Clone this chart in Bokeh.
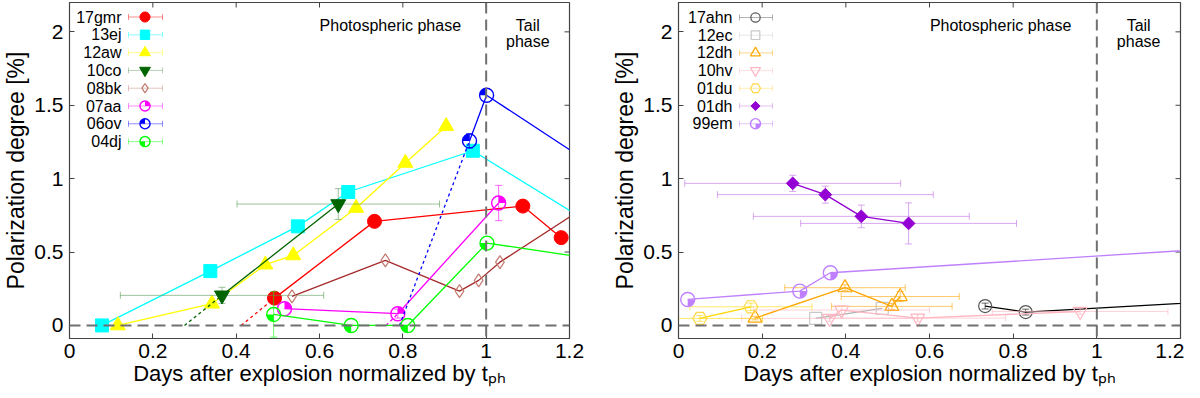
import math
from bokeh.plotting import figure
from bokeh.models import Range1d, Span, Label, FixedTicker, CustomJSTickFormatter
from bokeh.layouts import row
from bokeh.embed import file_html
from bokeh.resources import INLINE
from bokeh.core.properties import value

FONT = "Liberation Sans"

# ---------------- axes ----------------
x_ticks = [0, 0.2, 0.4, 0.6, 0.8, 1.0, 1.2]
y_ticks = [0, 0.5, 1, 1.5, 2]
x_label = "Days after explosion normalized by tₚₕ"
y_label = "Polarization degree [%]"
phase_left_text = "Photospheric phase"
phase_right_text = ["Tail", "phase"]

# ---------------- left panel data ----------------
sn17gmr_x = [0.492, 0.732, 1.088, 1.180]
sn17gmr_y = [0.186, 0.709, 0.813, 0.598]
sn17gmr_t0 = 0.412

sn13ej_x = [0.078, 0.338, 0.548, 0.669, 0.968, 1.35]
sn13ej_y = [0.0, 0.370, 0.675, 0.909, 1.190, 0.52]

sn12aw_x = [0.116, 0.342, 0.470, 0.537, 0.688, 0.806, 0.904]
sn12aw_y = [0.0, 0.148, 0.414, 0.477, 0.800, 1.107, 1.357]

sn10co_x = [0.366, 0.645]
sn10co_y = [0.205, 0.827]
sn10co_xerr = [0.244, 0.243]
sn10co_yerr = [0.055, 0.105]
sn10co_t0 = 0.276

sn08bk_x = [0.534, 0.758, 0.936, 0.982, 1.033, 1.30]
sn08bk_y = [0.198, 0.443, 0.234, 0.307, 0.431, 0.922]

sn07aa_x = [0.516, 0.788, 1.030]
sn07aa_y = [0.114, 0.080, 0.834]
sn07aa_yerr = [0.0, 0.03, 0.12]
sn07aa_t0 = 0.760

sn06ov_x = [0.960, 1.001, 1.30]
sn06ov_y = [1.257, 1.568, 1.012]
sn06ov_yerr = [0.05, 0.0, 0.0]
sn06ov_t0 = 0.792

sn04dj_x = [0.490, 0.676, 0.812, 1.002, 1.40]
sn04dj_y = [0.075, 0.0, 0.0, 0.561, 0.393]
sn04dj_yerr = [0.155, 0.0, 0.0, 0.0, 0.0]

# ---------------- right panel data ----------------
sn17ahn_x = [0.733, 0.830, 1.60]
sn17ahn_y = [0.132, 0.091, 0.213]
sn17ahn_yerr = [0.02, 0.02, 0.0]

sn12ec_x = [0.328, 0.487]
sn12ec_y = [0.048, 0.116]

sn12dh_x = [0.183, 0.398, 0.510, 0.530]
sn12dh_y = [0.050, 0.257, 0.130, 0.197]
sn12dh_xerr = [0.0, 0.144, 0.144, 0.141]
sn12dh_yerr = [0.012, 0.02, 0.02, 0.035]

sn10hv_x = [0.361, 0.390, 0.572, 0.960]
sn10hv_y = [0.048, 0.105, 0.050, 0.095]
sn10hv_xerr = [0.21, 0.21, 0.21, 0.21]
sn10hv_yerr = [0.02, 0.03, 0.025, 0.02]

sn01du_x = [0.051, 0.173]
sn01du_y = [0.048, 0.127]
sn01du_xerr = [0.15, 0.146]
sn01du_yerr = [0.02, 0.025]

sn01dh_x = [0.273, 0.351, 0.437, 0.550]
sn01dh_y = [0.968, 0.891, 0.743, 0.695]
sn01dh_xerr = [0.258, 0.258, 0.258, 0.258]
sn01dh_yerr = [0.055, 0.058, 0.077, 0.14]

sn99em_x = [0.022, 0.290, 0.363, 1.60]
sn99em_y = [0.177, 0.234, 0.359, 0.580]

# ---------------- styles ----------------
FH = 336
X_RANGE = (0, 1.2)
Y_RANGE = (-0.089, 2.2)

left_series = [
    dict(name="17gmr", x=sn17gmr_x, y=sn17gmr_y, color="#ff0000", marker="circle", filled=True, size=14, t0=sn17gmr_t0, t0_idx=0),
    dict(name="13ej", x=sn13ej_x, y=sn13ej_y, color="#00ffff", marker="square", filled=True, size=13),
    dict(name="12aw", x=sn12aw_x, y=sn12aw_y, color="#ffff00", marker="triangle", filled=True, size=15),
    dict(name="10co", x=sn10co_x, y=sn10co_y, xerr=sn10co_xerr, yerr=sn10co_yerr, color="#006400", errcolor="#5a9a5a", marker="inverted_triangle", filled=True, size=15, t0=sn10co_t0, t0_idx=0),
    dict(name="08bk", x=sn08bk_x, y=sn08bk_y, color="#a52a2a", mcolor="#c47a70", marker="diamond", filled=False, size=13),
    dict(name="07aa", x=sn07aa_x, y=sn07aa_y, yerr=sn07aa_yerr, color="#ff00ff", marker="pie", quad=0, size=14, t0=sn07aa_t0, t0_idx=1),
    dict(name="06ov", x=sn06ov_x, y=sn06ov_y, yerr=sn06ov_yerr, color="#0000ff", marker="pie", quad=1, size=14, t0=sn06ov_t0, t0_idx=0),
    dict(name="04dj", x=sn04dj_x, y=sn04dj_y, yerr=sn04dj_yerr, color="#00ff00", marker="pie", quad=2, size=14),
]

right_series = [
    dict(name="17ahn", x=sn17ahn_x, y=sn17ahn_y, yerr=sn17ahn_yerr, color="#000000", mcolor="#555555", marker="circle", filled=False, size=13),
    dict(name="12ec", x=sn12ec_x, y=sn12ec_y, color="#b0b0b0", mcolor="#c8c8c8", marker="square", filled=False, size=12),
    dict(name="12dh", x=sn12dh_x, y=sn12dh_y, xerr=sn12dh_xerr, yerr=sn12dh_yerr, color="#ffa500", marker="triangle", filled=False, size=14),
    dict(name="10hv", x=sn10hv_x, y=sn10hv_y, xerr=sn10hv_xerr, yerr=sn10hv_yerr, color="#ffb6c1", marker="inverted_triangle", filled=False, size=14),
    dict(name="01du", x=sn01du_x, y=sn01du_y, xerr=sn01du_xerr, yerr=sn01du_yerr, color="#ffd700", mcolor="#ffd84a", marker="hex", filled=False, size=14),
    dict(name="01dh", x=sn01dh_x, y=sn01dh_y, xerr=sn01dh_xerr, yerr=sn01dh_yerr, color="#9400d3", errcolor="#c070e8", marker="square45", filled=True, size=9),
    dict(name="99em", x=sn99em_x, y=sn99em_y, color="#bf80ff", marker="pie", quad=3, size=14),
]

QUADS = [(0, math.pi / 2), (math.pi / 2, math.pi), (math.pi, 1.5 * math.pi), (1.5 * math.pi, 2 * math.pi)]
AXC = "#444444"


def draw_marker(p, xs, ys, s, size, **kw):
    color = s.get("mcolor", s["color"])
    m = s["marker"]
    if m == "pie":
        p.scatter(xs, ys, marker="circle", size=size, fill_color="white", fill_alpha=0.0,
                  line_color=color, line_width=1.4, **kw)
        a0, a1 = QUADS[s["quad"]]
        p.wedge(xs, ys, radius=size / 2.0, radius_units="screen", start_angle=a0, end_angle=a1,
                fill_color=color, line_color=None, **kw)
    elif m == "square45":
        p.scatter(xs, ys, marker="square", angle=math.pi / 4, size=size,
                  fill_color=color, line_color=color, **kw)
    elif s.get("filled"):
        p.scatter(xs, ys, marker=m, size=size, fill_color=color, line_color=color, **kw)
    else:
        p.scatter(xs, ys, marker=m, size=size, fill_color=None, line_color=color,
                  line_width=1.2, **kw)


def draw_series(p, s):
    x, y, color = s["x"], s["y"], s["color"]
    ec = s.get("errcolor", color)
    if "t0" in s:
        i = s["t0_idx"]
        p.line([s["t0"], x[i]], [0, y[i]], line_color=color, line_width=1.3, line_dash="3 3")
    if "xerr" in s:
        idx = [i for i, e in enumerate(s["xerr"]) if e > 0]
        x0 = [x[i] - s["xerr"][i] for i in idx]
        x1 = [x[i] + s["xerr"][i] for i in idx]
        yy = [y[i] for i in idx]
        p.segment(x0, yy, x1, yy, line_color=ec, line_alpha=0.6, line_width=1)
        p.scatter(x0 + x1, yy + yy, marker="dash", angle=math.pi / 2, size=7,
                  line_color=ec, line_alpha=0.6, line_width=1)
    if "yerr" in s:
        idx = [i for i, e in enumerate(s["yerr"]) if e > 0]
        y0 = [y[i] - s["yerr"][i] for i in idx]
        y1 = [y[i] + s["yerr"][i] for i in idx]
        xx = [x[i] for i in idx]
        p.segment(xx, y0, xx, y1, line_color=ec, line_alpha=0.6, line_width=1)
        p.scatter(xx + xx, y0 + y1, marker="dash", size=7,
                  line_color=ec, line_alpha=0.6, line_width=1)
    p.line(x, y, line_color=color, line_width=1.3)
    draw_marker(p, x, y, s, s["size"])


def draw_legend(p, series, text_right, mark_x, bar_x0, bar_x1, y0, dy):
    for k, s in enumerate(series):
        yy = y0 + k * dy
        ec = s.get("errcolor", s.get("mcolor", s["color"]))
        p.text([text_right], [yy], text=[s["name"]], text_align="right", text_baseline="middle",
               text_font=value(FONT), text_font_size="16px", text_color="black",
               x_range_name="px", y_range_name="py")
        p.segment([bar_x0], [yy], [bar_x1], [yy], line_color=ec, line_alpha=0.45, line_width=1,
                  x_range_name="px", y_range_name="py")
        p.segment([bar_x0, bar_x1], [yy - 3, yy - 3], [bar_x0, bar_x1], [yy + 3, yy + 3],
                  line_color=ec, line_alpha=0.45, line_width=1,
                  x_range_name="px", y_range_name="py")
        draw_marker(p, [mark_x], [yy], s, s["size"] * 0.72, x_range_name="px", y_range_name="py")


def make_fig(fw, mbl, mbr):
    p = figure(frame_width=fw, frame_height=FH,
               x_range=Range1d(*X_RANGE), y_range=Range1d(*Y_RANGE),
               output_backend="svg", toolbar_location=None,
               min_border_left=mbl, min_border_right=mbr, min_border_top=2, min_border_bottom=56,
               background_fill_color="white", border_fill_color="white")
    p.extra_x_ranges = {"px": Range1d(0, fw)}
    p.extra_y_ranges = {"py": Range1d(FH, 0)}
    p.grid.visible = False
    p.outline_line_color = AXC
    p.outline_line_width = 1.2
    fmt = CustomJSTickFormatter(code="return String(tick);")
    p.xaxis.ticker = FixedTicker(ticks=x_ticks)
    p.yaxis.ticker = FixedTicker(ticks=y_ticks)
    p.xaxis.formatter = fmt
    p.yaxis.formatter = fmt
    p.xaxis.axis_label = x_label
    p.yaxis.axis_label = y_label
    for ax in (p.xaxis[0], p.yaxis[0]):
        ax.major_label_text_font = FONT
        ax.major_label_text_font_size = "21px"
        ax.major_label_text_color = "black"
        ax.axis_label_text_font = FONT
        ax.axis_label_text_font_style = "normal"
        ax.axis_label_text_color = "black"
        ax.major_tick_in = 5
        ax.major_tick_out = 0
        ax.minor_tick_line_color = None
        ax.axis_line_color = AXC
        ax.major_tick_line_color = AXC
    p.xaxis.axis_label_text_font_size = "22px"
    p.yaxis.axis_label_text_font_size = "23px"
    p.xaxis.major_label_standoff = 5
    p.xaxis.axis_label_standoff = 0
    p.yaxis.major_label_standoff = 6
    p.yaxis.axis_label_standoff = 2
    # mirror ticks on top and right edges
    n = len(x_ticks)
    p.segment(x_ticks, [0] * n, x_ticks, [5] * n, y_range_name="py", line_color=AXC, line_width=1)
    m = len(y_ticks)
    p.segment([fw - 5] * m, y_ticks, [fw] * m, y_ticks, x_range_name="px", line_color=AXC, line_width=1)
    p.add_layout(Span(location=0, dimension="width", line_color="#707070", line_width=2,
                      line_dash="11 6"))
    p.add_layout(Span(location=1.0, dimension="height", line_color="#707070", line_width=2,
                      line_dash="11 6"))
    p.add_layout(Label(x=0.77, y=23, y_range_name="py", text=phase_left_text, text_align="center",
                       text_baseline="alphabetic", text_font=FONT, text_font_size="16px",
                       text_color="black"))
    for k, t in enumerate(phase_right_text):
        p.add_layout(Label(x=1.10, y=23 + 16 * k, y_range_name="py", text=t, text_align="center",
                           text_baseline="alphabetic", text_font=FONT, text_font_size="16px",
                           text_color="black"))
    return p


p1 = make_fig(500, 64, 40)
for s in left_series:
    draw_series(p1, s)
draw_legend(p1, left_series, 52, 75.5, 59, 93, 14.5, 17.8)

p2 = make_fig(502, 64, 4)
for s in right_series:
    draw_series(p2, s)
draw_legend(p2, right_series, 54, 77, 61, 94, 15, 17.7)

layout = row(p1, p2)
open("out.html", "w").write(file_html(layout, INLINE))
